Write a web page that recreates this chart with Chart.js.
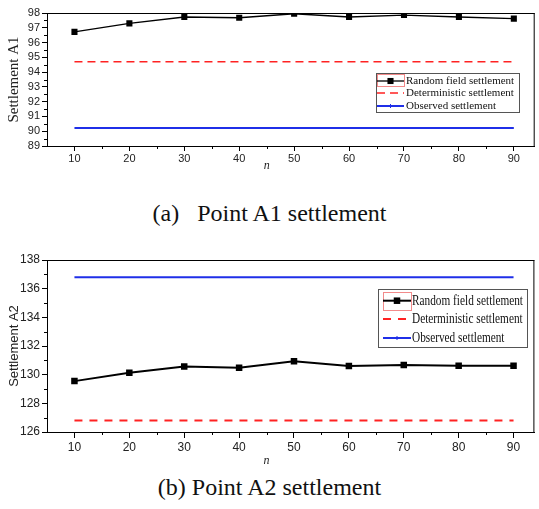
<!DOCTYPE html>
<html>
<head>
<meta charset="utf-8">
<script src="https://cdn.jsdelivr.net/npm/chart.js@4.4.0/dist/chart.umd.min.js"></script>
<style>
  body { margin: 0; background: #fff; width: 539px; height: 509px; position: relative; overflow: hidden; }
  canvas { position: absolute; left: 0; }
  #chartA1 { top: 0; }
  #chartA2 { top: 245px; }
  .caption { position: absolute; left: 0; width: 539px; text-align: center; white-space: pre;
             font-family: "Liberation Serif", serif; font-size: 24px; line-height: 24px; color: #111; }
</style>
</head>
<body>
<canvas id="chartA1" width="539" height="175"></canvas>
<div class="caption" style="top:201px">(a)   Point A1 settlement</div>
<canvas id="chartA2" width="539" height="225"></canvas>
<div class="caption" style="top:475px">(b) Point A2 settlement</div>
<script>
// number of realisations n
const nValues = [10, 20, 30, 40, 50, 60, 70, 80, 90];
const seriesNames = ["Random field settlement", "Deterministic settlement", "Observed settlement"];

// point A1
const randomA1 = [96.72, 97.3, 97.73, 97.68, 97.95, 97.73, 97.86, 97.73, 97.62];
const deterministicA1 = 94.7;
const observedA1 = 90.22;
const yTicksA1 = [89, 90, 91, 92, 93, 94, 95, 96, 97, 98];

// point A2
const randomA2 = [129.55, 130.13, 130.57, 130.48, 130.94, 130.61, 130.68, 130.63, 130.62];
const deterministicA2 = 126.8;
const observedA2 = 136.8;
const yTicksA2 = [126, 128, 130, 132, 134, 136, 138];

// minor ticks sit halfway between the labelled ones
function midpoints(arr) {
  let out = [];
  for (let i = 0; i < arr.length - 1; i++) out.push((arr[i] + arr[i + 1]) / 2);
  return out;
}

// frame, minor ticks, the "n" label and the boxed legend
const originStyle = {
  id: "originStyle",
  afterDraw(chart, args, opts) {
    const { ctx, chartArea: a } = chart;
    const x = chart.scales.x, y = chart.scales.y;
    ctx.save();
    ctx.strokeStyle = "#000";
    ctx.lineWidth = 1;
    ctx.beginPath();
    ctx.moveTo(a.left, a.top + 0.5);
    ctx.lineTo(a.right, a.top + 0.5);
    ctx.moveTo(a.right - 0.5, a.top);
    ctx.lineTo(a.right - 0.5, a.bottom);
    opts.xMinor.forEach(v => {
      let px = Math.round(x.getPixelForValue(v)) + 0.5;
      ctx.moveTo(px, a.bottom);
      ctx.lineTo(px, a.bottom + opts.minorLen);
    });
    opts.yMinor.forEach(v => {
      let py = Math.round(y.getPixelForValue(v)) + 0.5;
      ctx.moveTo(a.left, py);
      ctx.lineTo(a.left - opts.minorLen, py);
    });
    ctx.stroke();

    // axis name under the ticks
    ctx.fillStyle = "#222";
    ctx.font = "italic 12px 'Liberation Serif'";
    ctx.textAlign = "center";
    ctx.textBaseline = "middle";
    ctx.fillText("n", x.getPixelForValue(opts.nAt), opts.nY);

    // legend
    const lg = opts.legend;
    ctx.strokeStyle = "#555";
    ctx.strokeRect(lg.box[0] + 0.5, lg.box[1] + 0.5, lg.box[2], lg.box[3]);
    ctx.strokeStyle = "#f28a8a";
    ctx.strokeRect(lg.mark[0] + 0.5, lg.mark[1] + 0.5, lg.mark[2], lg.mark[3]);
    ctx.font = lg.font;
    ctx.textAlign = "left";
    // squeeze all entries by the same factor so the longest fits
    let widest = Math.max(...chart.data.datasets.map(ds => ctx.measureText(ds.label).width));
    let sx = Math.min(1, lg.textW / widest);
    chart.data.datasets.forEach((ds, i) => {
      let ry = lg.rows[i];
      let cx = (lg.symbol[0] + lg.symbol[1]) / 2;
      ctx.strokeStyle = ds.borderColor;
      ctx.lineWidth = ds.borderWidth;
      ctx.setLineDash(ds.borderDash || []);
      ctx.beginPath();
      ctx.moveTo(lg.symbol[0], ry);
      ctx.lineTo(lg.symbol[1], ry);
      ctx.stroke();
      ctx.setLineDash([]);
      if (ds.pointRadius > 0) {
        let s = ds.pointRadius * Math.SQRT1_2;
        ctx.fillStyle = ds.pointBackgroundColor;
        ctx.fillRect(cx - s, ry - s, 2 * s, 2 * s);
      } else if (!ds.borderDash) {
        // tiny marker tick on the solid observed line
        ctx.lineWidth = 1;
        ctx.beginPath();
        ctx.moveTo(cx, ry - 2);
        ctx.lineTo(cx, ry + 2);
        ctx.stroke();
      }
      ctx.save();
      ctx.translate(lg.textX, ry + 0.5);
      ctx.scale(sx, 1);
      ctx.fillStyle = "#111";
      ctx.fillText(ds.label, 0, 0);
      ctx.restore();
    });
    ctx.restore();
  }
};

function makeChart(id, s) {
  const flat = v => nValues.map(n => ({ x: n, y: v }));
  const pts = arr => nValues.map((n, i) => ({ x: n, y: arr[i] }));
  return new Chart(document.getElementById(id), {
    type: "line",
    data: {
      datasets: [
        {
          label: seriesNames[0], data: pts(s.random),
          borderColor: "#000", borderWidth: s.lineW,
          pointStyle: "rect", pointRadius: s.markR, pointBorderWidth: 0,
          pointBackgroundColor: "#000", tension: 0
        },
        {
          label: seriesNames[1], data: flat(s.deterministic),
          borderColor: "#f22", borderWidth: s.dashW, borderDash: s.dash, pointRadius: 0
        },
        {
          label: seriesNames[2], data: flat(s.observed),
          borderColor: "#1f2fe8", borderWidth: 2, pointRadius: 0
        }
      ]
    },
    options: {
      responsive: false,
      animation: false,
      layout: { padding: { top: s.top, right: 1, left: 0, bottom: 0 } },
      plugins: {
        legend: { display: false },
        tooltip: { enabled: false },
        originStyle: {
          xMinor: midpoints(nValues),
          yMinor: midpoints(s.yTicks),
          minorLen: 3,
          nAt: 45,
          nY: s.nY,
          legend: s.legend
        }
      },
      scales: {
        x: {
          type: "linear", min: 5, max: 93.8,
          afterBuildTicks: sc => { sc.ticks = nValues.map(v => ({ value: v })); },
          afterFit: sc => { sc.height = s.xH; },
          grid: { drawOnChartArea: false, tickLength: s.tickLen, tickColor: "#000" },
          border: { color: "#000", width: 1 },
          ticks: { padding: s.xPad, color: "#222", autoSkip: false, maxRotation: 0,
                   font: { family: "Liberation Sans", size: s.tickSize } }
        },
        y: {
          min: s.yTicks[0], max: s.yTicks[s.yTicks.length - 1],
          afterBuildTicks: sc => { sc.ticks = s.yTicks.map(v => ({ value: v })); },
          afterFit: sc => { sc.width = 47; },
          grid: { drawOnChartArea: false, tickLength: 5, tickColor: "#000" },
          border: { color: "#000", width: 1 },
          ticks: { padding: 2, color: "#222", autoSkip: false,
                   font: { family: "Liberation Sans", size: s.tickSize } },
          title: { display: true, text: s.yTitle, color: "#222", font: s.yTitleFont, padding: { top: s.yTitlePad, bottom: 0 } }
        }
      }
    },
    plugins: [originStyle]
  });
}

makeChart("chartA1", {
  random: randomA1, deterministic: deterministicA1, observed: observedA1,
  yTicks: yTicksA1, yTitle: "Settlement A1",
  yTitleFont: { family: "Liberation Serif", size: 15 }, yTitlePad: 5,
  top: 13, xH: 29, tickLen: 5, xPad: 1, tickSize: 11, nY: 166,
  lineW: 1.3, markR: 4.3, dashW: 1.6, dash: [8, 5],
  legend: {
    box: [376, 73, 143, 39], mark: [377, 74, 27, 12],
    rows: [81, 93, 106], symbol: [377, 404], textX: 406, textW: 111,
    font: "11px 'Liberation Serif'"
  }
});

makeChart("chartA2", {
  random: randomA2, deterministic: deterministicA2, observed: observedA2,
  yTicks: yTicksA2, yTitle: "Settlement A2",
  yTitleFont: { family: "Liberation Sans", size: 13 }, yTitlePad: 7,
  top: 15, xH: 38, tickLen: 6, xPad: 2, tickSize: 12, nY: 216,
  lineW: 2, markR: 4.6, dashW: 2, dash: [8, 7],
  legend: {
    box: [378, 44, 149, 58], mark: [383, 47, 28, 18],
    rows: [55.7, 74, 93], symbol: [383, 411], textX: 412, textW: 111,
    font: "14px 'Liberation Serif'"
  }
});
</script>
</body>
</html>
